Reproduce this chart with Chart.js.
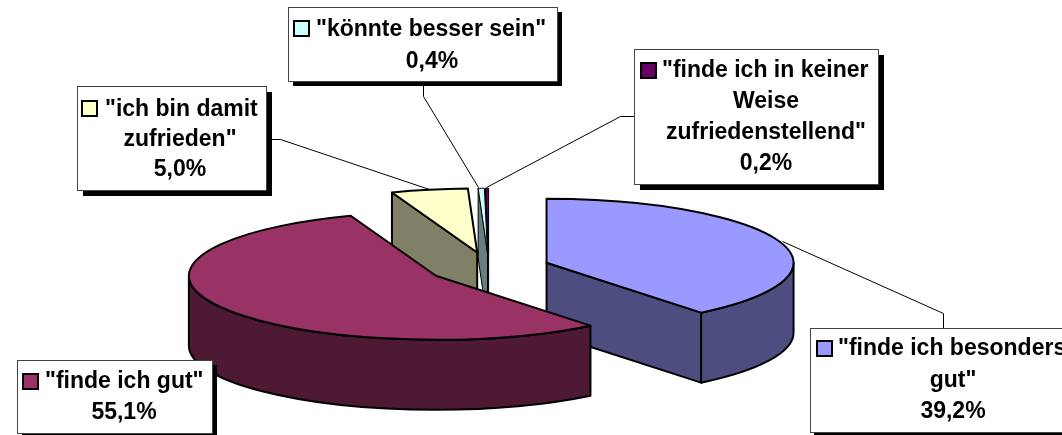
<!DOCTYPE html>
<html><head><meta charset="utf-8">
<style>html,body{margin:0;padding:0;background:#fff;overflow:hidden}canvas{display:block}</style>
<script src="https://cdn.jsdelivr.net/npm/chart.js@4"></script>
</head><body><canvas id="c" width="1062" height="435"></canvas>
<script>
const categories = ['"finde ich besonders gut"','"finde ich gut"','"ich bin damit zufrieden"','"könnte besser sein"','"finde ich in keiner Weise zufriedenstellend"'];
const values = [39.2, 55.1, 5.0, 0.4, 0.2];
const valueLabels = ['39,2%','55,1%','5,0%','0,4%','0,2%'];
const labelLines = [['"finde ich besonders','gut"'],['"finde ich gut"'],['"ich bin damit','zufrieden"'],['"könnte besser sein"'],['"finde ich in keiner','Weise','zufriedenstellend"']];
const topColors = ['#9999FF','#993366','#FFFFCC','#CCFFFF','#660066'];
const sideColors = ['#4D4D80','#4D1933','#808066','#668080','#330033'];

const CX=489, CY=268, K=0.259, DEPTH=70, RADIUS=247, EXPLODE=61;
const drawOrder=[4,3,2,0,1];
const boxes=[
 {x:810,y:328,w:262,h:104,s:4,tc:953,by:355,ls:31.5,kx:817,tx:838,ky:341,lead:[[943,328],[943,313],[782,241]]},
 {x:17,y:360,w:195,h:73,s:5,tc:124,by:388,ls:31,kx:23,tx:45,ky:374,lead:[]},
 {x:77,y:86,w:189,h:104,s:6,tc:180,by:116,ls:30,kx:82,tx:105,ky:101,lead:[[266,139],[280,139],[429,189]]},
 {x:288,y:7,w:269,h:74,s:5,tc:432,by:36,ls:32,kx:294,tx:316,ky:21,lead:[[423,81],[423,96],[478,187]]},
 {x:634,y:49,w:244,h:135,s:6,tc:766,by:77,ls:31,kx:641,tx:662,ky:63,lead:[[634,116],[620,116],[486,187]]}
];

const pie3d={id:'pie3d',
 beforeDatasetDraw(chart,args){
  const ctx=chart.ctx, arcs=chart.getDatasetMeta(0).data;
  ctx.save();
  ctx.strokeStyle='#000'; ctx.lineJoin='round';
  drawOrder.forEach(i=>{
    const el=arcs[i], a0=el.startAngle, a1=el.endAngle, r=el.outerRadius, mid=(a0+a1)/2, off=el.options.offset;
    const sx=CX+Math.cos(mid)*off, sy=CY+Math.sin(mid)*off*K, ry=r*K;
    const P=a=>[sx+Math.cos(a)*r, sy+Math.sin(a)*ry];
    ctx.lineWidth=(a1-a0)<0.05?1:2;
    ctx.fillStyle=sideColors[i];
    [[a0,a0-Math.PI/2],[a1,a1+Math.PI/2]].forEach(([a,n])=>{
      if(Math.sin(n)<=0.001)return;
      const p=P(a);
      ctx.beginPath();ctx.moveTo(sx,sy);ctx.lineTo(p[0],p[1]);ctx.lineTo(p[0],p[1]+DEPTH);ctx.lineTo(sx,sy+DEPTH);ctx.closePath();
      ctx.fill();ctx.stroke();
    });
    for(const [lo,hi] of [[0,Math.PI],[2*Math.PI,3*Math.PI],[-2*Math.PI,-Math.PI]]){
      const b0=Math.max(a0,lo), b1=Math.min(a1,hi);
      if(b1>b0){
        ctx.beginPath();
        ctx.ellipse(sx,sy,r,ry,0,b0,b1);
        ctx.ellipse(sx,sy+DEPTH,r,ry,0,b1,b0,true);
        ctx.closePath();ctx.fill();ctx.stroke();
      }
    }
    ctx.fillStyle=el.options.backgroundColor;
    ctx.beginPath();ctx.moveTo(sx,sy);ctx.ellipse(sx,sy,r,ry,0,a0,a1);ctx.closePath();
    ctx.fill();ctx.stroke();
  });
  ctx.restore();
  return false;
 },
 afterDatasetsDraw(chart){
  const ctx=chart.ctx;
  ctx.save();
  ctx.lineWidth=1;ctx.strokeStyle='#000';
  boxes.forEach(b=>{
    if(!b.lead.length)return;
    ctx.beginPath();b.lead.forEach((p,j)=>j?ctx.lineTo(p[0]+.5,p[1]+.5):ctx.moveTo(p[0]+.5,p[1]+.5));ctx.stroke();
  });
  boxes.forEach((b,i)=>{
    ctx.fillStyle='#000';ctx.fillRect(b.x+b.s,b.y+b.s,b.w,b.h);
    ctx.fillStyle='#fff';ctx.fillRect(b.x,b.y,b.w,b.h);
    ctx.strokeStyle='#444';ctx.lineWidth=1;ctx.strokeRect(b.x+.5,b.y+.5,b.w,b.h);
    ctx.fillStyle=topColors[i];ctx.strokeStyle='#000';ctx.lineWidth=2;
    ctx.fillRect(b.kx,b.ky,15,15);ctx.strokeRect(b.kx,b.ky,15,15);
    ctx.fillStyle='#000';ctx.font='bold 23px "Liberation Sans", Arial, sans-serif';
    ctx.textBaseline='alphabetic';
    const lines=labelLines[i].concat(valueLabels[i]);
    lines.forEach((t,j)=>{
      ctx.textAlign=j?'center':'left';
      ctx.fillText(t,j?b.tc:b.tx,b.by+j*b.ls);
    });
  });
  ctx.restore();
 }
};

new Chart(document.getElementById('c'),{
 type:'pie',
 data:{labels:categories,datasets:[{data:values,backgroundColor:topColors,offset:EXPLODE,radius:RADIUS,borderWidth:0,hoverOffset:0}]},
 options:{responsive:false,animation:false,events:[],plugins:{legend:{display:false},tooltip:{enabled:false}}},
 plugins:[pie3d]
});
</script></body></html>
